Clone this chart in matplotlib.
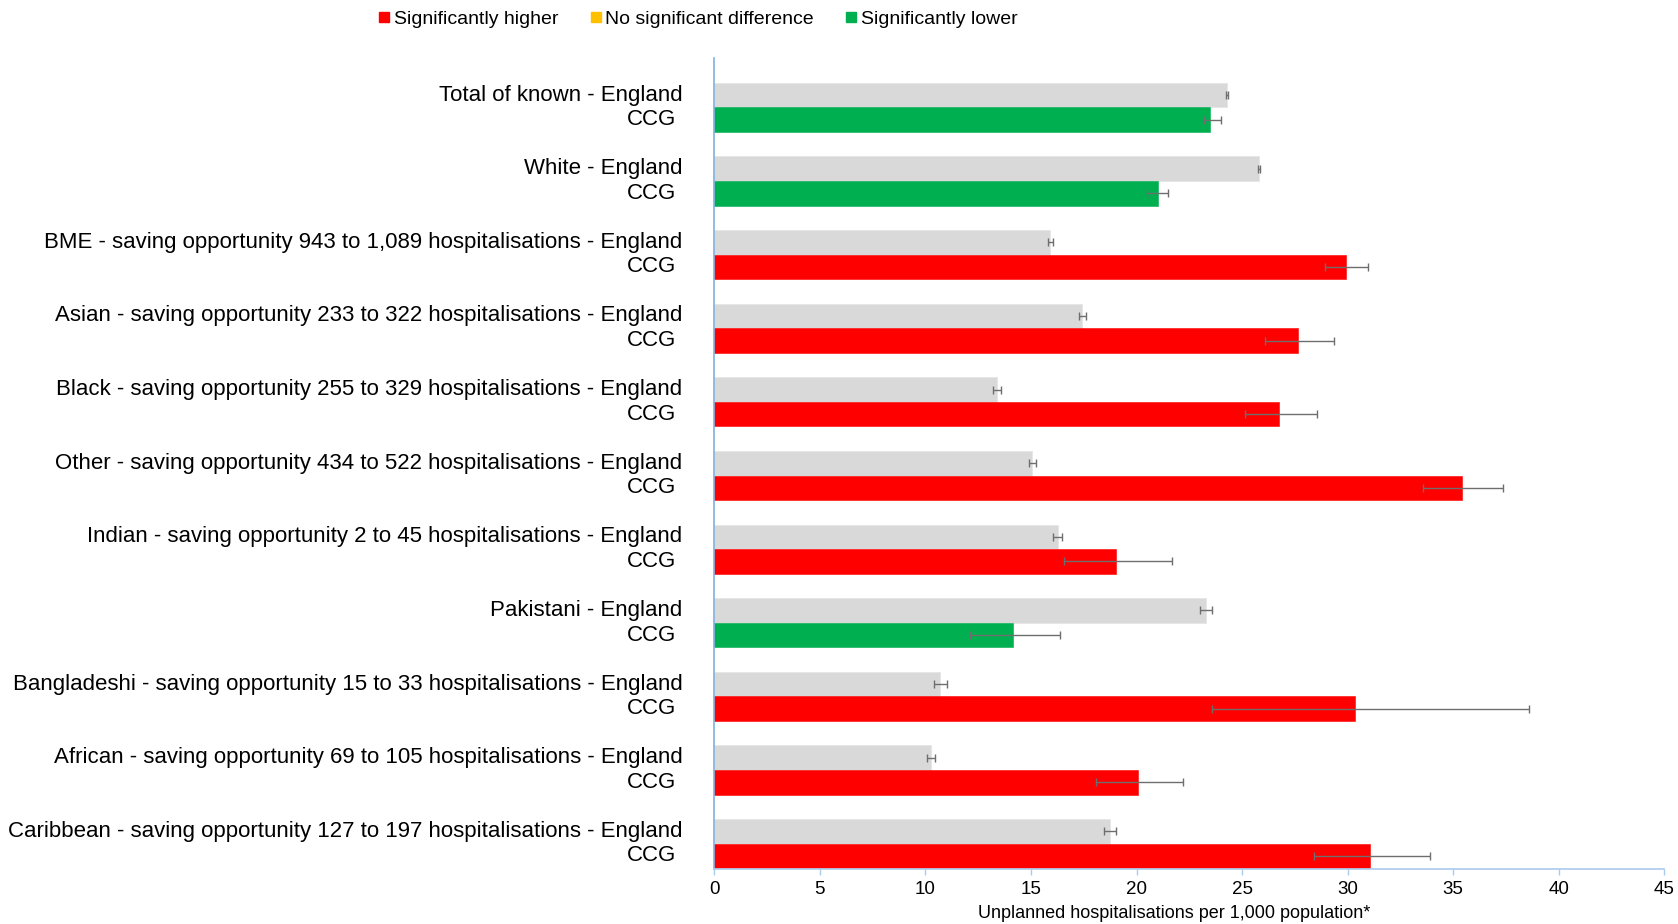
import matplotlib
matplotlib.use("Agg")
import matplotlib.pyplot as plt
from matplotlib.lines import Line2D
from matplotlib.transforms import offset_copy
import numpy as np

plt.rcParams['font.family'] = ['Liberation Sans', 'DejaVu Sans']

groups = [
    "Total of known",
    "White",
    "BME - saving opportunity 943 to 1,089 hospitalisations",
    "Asian - saving opportunity 233 to 322 hospitalisations",
    "Black - saving opportunity 255 to 329 hospitalisations",
    "Other - saving opportunity 434 to 522 hospitalisations",
    "Indian - saving opportunity 2 to 45 hospitalisations",
    "Pakistani",
    "Bangladeshi - saving opportunity 15 to 33 hospitalisations",
    "African - saving opportunity 69 to 105 hospitalisations",
    "Caribbean - saving opportunity 127 to 197 hospitalisations",
]
england = [24.3, 25.8, 15.92, 17.44, 13.38, 15.07, 16.26, 23.29, 10.7, 10.26, 18.74]
england_err = [0.05, 0.05, 0.1, 0.15, 0.2, 0.17, 0.21, 0.28, 0.3, 0.2, 0.3]
ccg = [23.5, 21.0, 29.9, 27.66, 26.77, 35.42, 19.01, 14.13, 30.36, 20.06, 31.08]
ccg_low = [23.2, 20.5, 28.93, 26.07, 25.13, 33.58, 16.56, 12.13, 23.56, 18.1, 28.4]
ccg_high = [24.0, 21.5, 30.96, 29.35, 28.56, 37.36, 21.69, 16.38, 38.57, 22.2, 33.9]
significance = ["lower", "lower", "higher", "higher", "higher", "higher", "higher",
                "lower", "higher", "higher", "higher"]
legend_labels = ["Significantly higher", "No significant difference", "Significantly lower"]

colors = {"higher": "#FF0000", "same": "#FFC000", "lower": "#00B050"}
gray = "#D9D9D9"
errc = "#6E6E6E"

W, H = 1678, 924
fig = plt.figure(figsize=(W / 100, H / 100), dpi=100)
ax_left, ax_right, ax_top, ax_bottom = 714.3, 1664.3, 58.3, 868.5
ax = fig.add_axes([ax_left / W, 1 - ax_bottom / H, (ax_right - ax_left) / W, (ax_bottom - ax_top) / H])

n = len(groups)
pos = np.arange(n)
bh = 0.334
y_eng = pos - bh / 2
y_ccg = pos + bh / 2

ax.barh(y_eng, england, height=bh, color=gray, edgecolor="#E6E6E6", linewidth=0.6, zorder=2)
ax.barh(y_ccg, ccg, height=bh, color=[colors[s] for s in significance],
        edgecolor=[colors[s] for s in significance], linewidth=0.4, zorder=2)

ax.errorbar(england, y_eng, xerr=england_err, fmt='none', ecolor=errc, elinewidth=1.0,
            capsize=3, capthick=1.0, zorder=3)
ccg_arr = np.array(ccg)
xerr = np.vstack([ccg_arr - np.array(ccg_low), np.array(ccg_high) - ccg_arr])
ax.errorbar(ccg, y_ccg, xerr=xerr, fmt='none', ecolor=errc, elinewidth=1.0,
            capsize=3, capthick=1.0, zorder=3)

ax.set_xlim(0, 45)
ax.set_ylim(10 + (ax_bottom - 843.7) / 73.64, -(107.3 - ax_top) / 73.64)
ax.set_xticks(np.arange(0, 46, 5))
ax.set_yticks([])
ax.tick_params(axis='x', direction='out', length=4, width=1, color="#A9CBEC",
               labelsize=13.5, pad=5, labelcolor="#000000")
for s in ["top", "right"]:
    ax.spines[s].set_visible(False)
ax.spines["left"].set_color("#7FB0E0")
ax.spines["left"].set_linewidth(1.2)
ax.spines["bottom"].set_color("#A9CBEC")
ax.spines["bottom"].set_linewidth(1.2)

ytr = ax.get_yaxis_transform()
tr_eng = offset_copy(ytr, fig=fig, x=-32, y=0, units='dots')
tr_ccg = offset_copy(ytr, fig=fig, x=-38, y=0, units='dots')
for i, g in enumerate(groups):
    ax.text(0, y_eng[i], g + " - England", transform=tr_eng, ha='right', va='center',
            fontsize=16, color="#000000")
    ax.text(0, y_ccg[i], "CCG", transform=tr_ccg, ha='right', va='center',
            fontsize=16, color="#000000")

ax.set_xlabel("Unplanned hospitalisations per 1,000 population*", fontsize=13, va='center')
ax.xaxis.set_label_coords((1174 - ax_left) / (ax_right - ax_left), -(913 - ax_bottom) / (ax_bottom - ax_top))

handles = [Line2D([], [], marker='s', linestyle='', color=colors[k], markersize=7)
           for k in ["higher", "same", "lower"]]
fig.legend(handles, legend_labels, loc='center', bbox_to_anchor=(697 / W, 1 - 19 / H),
           ncol=3, frameon=False, fontsize=14, handletextpad=0.1, columnspacing=1.5,
           handlelength=0.8)

fig.savefig("out.png", dpi=100)
